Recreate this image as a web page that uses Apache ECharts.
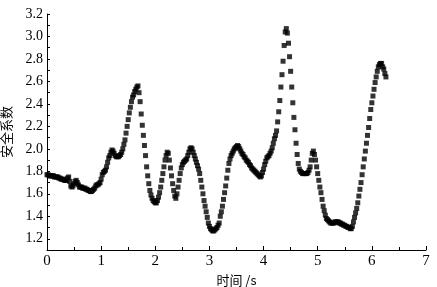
<!DOCTYPE html>
<html>
<head>
<meta charset="utf-8">
<script src="https://cdn.jsdelivr.net/npm/echarts@6/dist/echarts.min.js"></script>
<style>
html,body{margin:0;padding:0;background:#fff;}
#c{width:437px;height:287px;}
</style>
</head>
<body>
<div id="c"></div>
<script>
// sampling: time step of the recorded series (s)
const timeStart = 0;
const timeStep = 0.02;
// safety factor values, one per time step
const safetyFactor = [
1.77,1.77,1.76,1.76,1.76,1.76,1.76,1.75,1.75,1.75,
1.75,1.74,1.74,1.73,1.73,1.73,1.72,1.72,1.72,1.74,
1.75,1.71,1.67,1.66,1.67,1.69,1.71,1.72,1.70,1.68,
1.66,1.66,1.66,1.65,1.65,1.65,1.64,1.64,1.63,1.63,
1.62,1.62,1.63,1.64,1.65,1.67,1.68,1.68,1.69,1.70,
1.73,1.77,1.79,1.80,1.81,1.84,1.88,1.92,1.94,1.97,
1.99,1.98,1.96,1.94,1.93,1.93,1.93,1.94,1.95,1.97,
2.00,2.04,2.08,2.14,2.20,2.26,2.32,2.37,2.42,2.46,
2.48,2.51,2.53,2.55,2.56,2.50,2.42,2.31,2.21,2.12,
2.03,1.94,1.84,1.76,1.69,1.63,1.59,1.56,1.54,1.53,
1.52,1.52,1.54,1.57,1.61,1.66,1.72,1.78,1.84,1.90,
1.94,1.97,1.96,1.90,1.83,1.76,1.69,1.63,1.58,1.56,
1.60,1.66,1.72,1.78,1.83,1.86,1.88,1.89,1.90,1.91,
1.94,1.97,2.00,2.01,2.00,1.97,1.94,1.91,1.88,1.85,
1.82,1.78,1.72,1.66,1.60,1.54,1.49,1.44,1.39,1.34,
1.31,1.29,1.28,1.27,1.27,1.28,1.29,1.30,1.32,1.34,
1.40,1.44,1.49,1.55,1.61,1.67,1.74,1.81,1.87,1.91,
1.94,1.96,1.98,2.00,2.01,2.02,2.03,2.02,2.00,1.98,
1.96,1.95,1.93,1.92,1.90,1.89,1.88,1.86,1.85,1.83,
1.82,1.81,1.80,1.79,1.78,1.77,1.76,1.75,1.76,1.79,
1.82,1.86,1.89,1.92,1.93,1.94,1.96,1.98,2.01,2.05,
2.09,2.12,2.16,2.24,2.33,2.43,2.55,2.66,2.78,2.92,
3.04,3.07,3.03,2.94,2.82,2.69,2.55,2.41,2.28,2.17,
2.05,1.95,1.87,1.82,1.80,1.79,1.78,1.78,1.78,1.78,
1.78,1.79,1.81,1.84,1.90,1.96,1.98,1.95,1.90,1.84,
1.78,1.72,1.66,1.61,1.55,1.49,1.45,1.41,1.38,1.37,
1.36,1.35,1.34,1.34,1.34,1.34,1.35,1.35,1.35,1.35,
1.34,1.34,1.33,1.33,1.32,1.32,1.31,1.31,1.30,1.30,
1.29,1.29,1.31,1.35,1.39,1.43,1.47,1.52,1.58,1.64,
1.70,1.77,1.84,1.91,1.98,2.05,2.12,2.19,2.27,2.35,
2.41,2.47,2.53,2.59,2.64,2.69,2.73,2.75,2.76,2.76,
2.73,2.71,2.67,2.64
];
const xTicks = [0,1,2,3,4,5,6,7];
const yTickLabels = ['1.2','1.4','1.6','1.8','2.0','2.2','2.4','2.6','2.8','3.0','3.2'];
const xName = '时间 /s';
const yName = '安全系数';

const points = safetyFactor.map((v, i) => [+(timeStart + i * timeStep).toFixed(2), v]);

const chart = echarts.init(document.getElementById('c'), null, {renderer: 'canvas'});
const serif = '"Liberation Serif","DejaVu Serif",serif';
const cjk = '"Noto Sans CJK SC","Liberation Serif",serif';
chart.setOption({
  animation: false,
  backgroundColor: '#fff',
  grid: {left: 47, right: 11, top: 14, bottom: 37, containLabel: false, outerBoundsMode: 'none'},
  xAxis: {
    type: 'value', min: xTicks[0], max: xTicks[xTicks.length - 1], interval: 1,
    name: xName, nameLocation: 'middle', nameGap: 20,
    nameTextStyle: {fontFamily: cjk, fontSize: 13, color: '#000', verticalAlign: 'top'},
    axisLine: {show: true, onZero: false, lineStyle: {color: '#000', width: 1}},
    axisTick: {show: true, inside: true, length: 4, lineStyle: {color: '#000'}},
    minorTick: {show: true, splitNumber: 2, length: 3, lineStyle: {color: '#000'}},
    axisLabel: {margin: 4, fontFamily: serif, fontSize: 15, color: '#000'},
    splitLine: {show: false}
  },
  yAxis: {
    type: 'value', min: 1.1, max: 3.2, interval: 0.1,
    name: yName, nameLocation: 'middle', nameGap: 34, nameRotate: 90,
    nameTextStyle: {fontFamily: cjk, fontSize: 13, color: '#000'},
    axisLine: {show: true, onZero: false, lineStyle: {color: '#000', width: 1}},
    axisTick: {show: true, inside: true, length: 3, lineStyle: {color: '#000'}},
    axisLabel: {
      margin: 4, fontFamily: serif, fontSize: 14, color: '#000',
      formatter: function (v) {
        const s = v.toFixed(1);
        return yTickLabels.indexOf(s) >= 0 ? s : '';
      }
    },
    splitLine: {show: false}
  },
  series: [{
    type: 'scatter',
    data: points,
    symbol: 'rect',
    symbolSize: 5,
    itemStyle: {color: '#000'},
    silent: true
  }]
});
</script>
</body>
</html>
